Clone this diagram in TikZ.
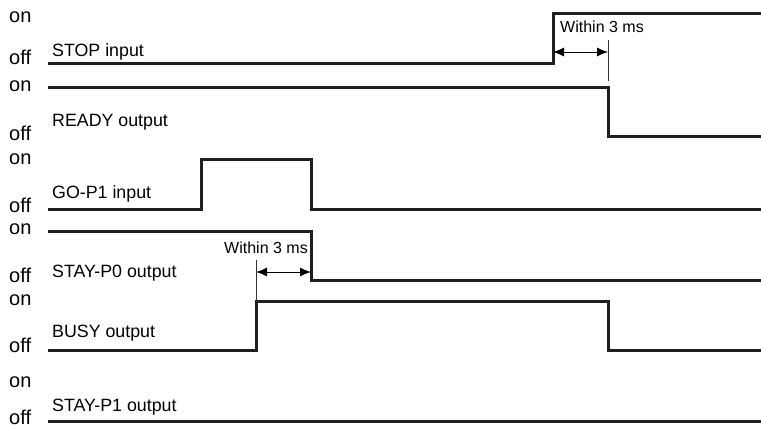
\documentclass[tikz,border=0pt]{standalone}
\usepackage{fontspec}
\setmainfont{Liberation Sans}
\usetikzlibrary{positioning,arrows.meta}
\tikzset{state/.style={anchor=base west,inner sep=0pt,font=\fontsize{20}{22}\selectfont}}
\tikzset{signame/.style={anchor=base west,inner sep=0pt,font=\fontsize{17.8}{20}\selectfont}}
\tikzset{note/.style={anchor=base west,inner sep=0pt,font=\fontsize{16}{18}\selectfont}}
\tikzset{wave/.style={line width=3pt,color=black!88}}
\tikzset{tickline/.style={line width=0.9pt,color=black!80}}
\tikzset{span/.style={line width=0.9pt,{Latex[length=11pt,width=9pt]}-{Latex[length=11pt,width=9pt]}}}

\begin{document}
\begin{tikzpicture}[x=1pt,y=-1pt]
    \useasboundingbox (0,0) rectangle (761,428);
    % levels
    \node[state] (on1) at (9,23) {on};
    \node[state] (off1) at (9,65) {off};
    \node[state] (on2) at (9,92) {on};
    \node[state] (off2) at (9,140) {off};
    \node[state] (on3) at (9,164) {on};
    \node[state] (off3) at (9,212) {off};
    \node[state] (on4) at (9,234) {on};
    \node[state] (off4) at (9,282) {off};
    \node[state] (on5) at (9,305) {on};
    \node[state] (off5) at (9,352) {off};
    \node[state] (on6) at (9,387) {on};
    \node[state] (off6) at (9,424) {off};
    % signal names
    \node[signame] (stop) at (52,57) {STOP input};
    \node[signame] (ready) at (52,127) {READY output};
    \node[signame] (go) at (52,198) {GO-P1 input};
    \node[signame] (stay0) at (52,277) {STAY-P0 output};
    \node[signame] (busy) at (52,337) {BUSY output};
    \node[signame] (stay1) at (52,411) {STAY-P1 output};
    % waveforms
    \draw[wave] (48,64) -- (553,64) -- (553,14) -- (761,14);
    \draw[wave] (48,88) -- (608,88) -- (608,136) -- (761,136);
    \draw[wave] (48,209) -- (201,209) -- (201,159) -- (311,159) -- (311,209) -- (761,209);
    \draw[wave] (48,231) -- (311,231) -- (311,280) -- (761,280);
    \draw[wave] (48,350) -- (256,350) -- (256,301) -- (608,301) -- (608,350) -- (761,350);
    \draw[wave] (48,421) -- (761,421);
    % delays
    \coordinate (stopRise) at (553,52);
    \coordinate (readyFall) at (608,52);
    \coordinate (readyTop) at (608,40);
    \coordinate (readyBot) at (608,81);
    \draw[tickline] (readyTop) -- (readyBot);
    \draw[span] (stopRise) -- (readyFall);
    \node[note] (within1) at (560,33) {Within 3 ms};
    \coordinate (busyRise) at (256,272);
    \coordinate (stayFall) at (311,272);
    \coordinate (busyTop) at (256,260);
    \coordinate (busyBot) at (256,301);
    \draw[tickline] (busyTop) -- (busyBot);
    \draw[span] (busyRise) -- (stayFall);
    \node[note] (within2) at (224,253) {Within 3 ms};
\end{tikzpicture}
\end{document}
